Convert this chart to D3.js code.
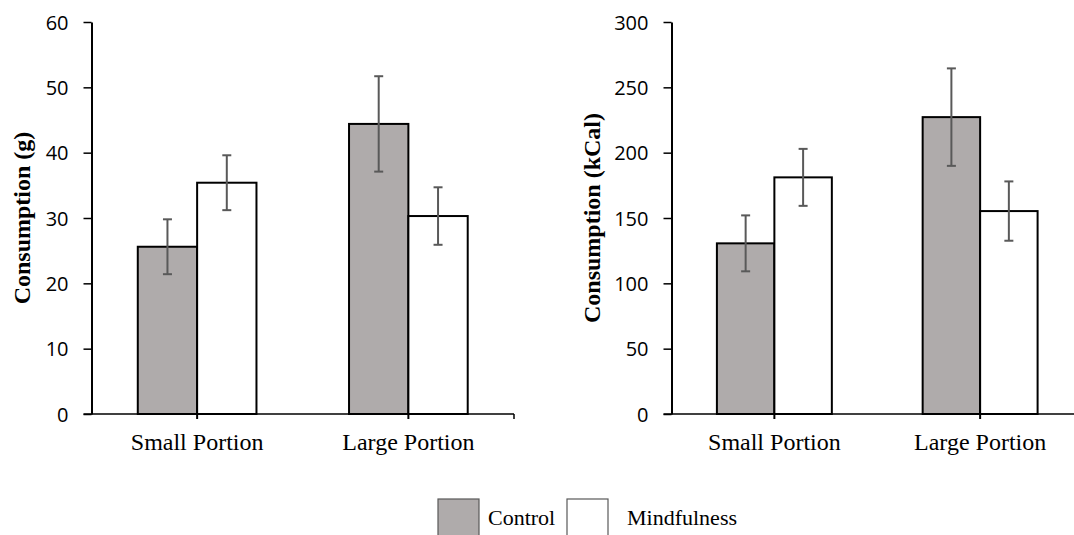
<!DOCTYPE html>
<meta charset="utf-8">
<style>
  body { margin: 0; background: #fff; }
  .tick-num { font-family: 'Open Sans', sans-serif; font-size: 20px; fill: #000; }
  .cat { font-family: 'Liberation Serif', 'Times New Roman', serif; font-size: 24px; fill: #000; }
  .ytitle { font-family: 'Liberation Serif', 'Times New Roman', serif; font-size: 24px; font-weight: bold; fill: #000; }
  .legend { font-family: 'Liberation Serif', 'Times New Roman', serif; font-size: 22px; fill: #000; }
</style>
<script src="https://d3js.org/d3.v7.min.js"></script>
<div id="chart"></div>
<script>

// categories and series
var categories = ["Small Portion", "Large Portion"];
var series = ["Control", "Mindfulness"];

// consumption in grams (mean and error)
var gramsControl = [25.6, 44.4];
var gramsMindful = [35.4, 30.3];
var gramsControlErr = [4.2, 7.3];
var gramsMindfulErr = [4.2, 4.4];
var gramsTicks = [0, 10, 20, 30, 40, 50, 60];

// consumption in kCal (mean and error)
var kcalControl = [130.6, 227.2];
var kcalMindful = [181.1, 155.3];
var kcalControlErr = [21.4, 37.3];
var kcalMindfulErr = [21.8, 22.7];
var kcalTicks = [0, 50, 100, 150, 200, 250, 300];

var colors = { "Control": "#afabab", "Mindfulness": "#ffffff" };

var W = 1074, H = 535;
var svg = d3.select("#chart").append("svg")
    .attr("width", W)
    .attr("height", H);

function buildRows(ctrl, mind, ctrlErr, mindErr) {
  return categories.map(function (c, i) {
    return {
      cat: c,
      vals: [
        { s: "Control", v: ctrl[i], e: ctrlErr[i] },
        { s: "Mindfulness", v: mind[i], e: mindErr[i] }
      ]
    };
  });
}

function drawPanel(opt) {
  var x0 = d3.scaleBand()
    .domain(categories)
    .range([opt.left, opt.right]);

  var x1 = d3.scaleBand()
    .domain(series)
    .range([0, x0.bandwidth()])
    .paddingOuter(opt.outer);

  var y = d3.scaleLinear()
    .domain([0, opt.max])
    .range([414, 22]);

  var g = svg.append("g");

  // bars
  var groups = g.selectAll(".grp")
    .data(opt.rows)
    .enter().append("g")
      .attr("transform", function (d) { return "translate(" + x0(d.cat) + ",0)"; });

  groups.selectAll("rect")
    .data(function (d) { return d.vals; })
    .enter().append("rect")
      .attr("x", function (d) { return x1(d.s); })
      .attr("y", function (d) { return y(d.v); })
      .attr("width", x1.bandwidth())
      .attr("height", function (d) { return y(0) - y(d.v); })
      .attr("fill", function (d) { return colors[d.s]; })
      .attr("stroke", "#000")
      .attr("stroke-width", 2);

  // error bars
  var eb = groups.selectAll(".err")
    .data(function (d) { return d.vals; })
    .enter().append("g")
      .attr("stroke", "#595959")
      .attr("stroke-width", 2);

  eb.append("line")
    .attr("x1", function (d) { return x1(d.s) + x1.bandwidth() / 2; })
    .attr("x2", function (d) { return x1(d.s) + x1.bandwidth() / 2; })
    .attr("y1", function (d) { return y(d.v + d.e); })
    .attr("y2", function (d) { return y(d.v - d.e); });

  [1, -1].forEach(function (sgn) {
    eb.append("line")
      .attr("x1", function (d) { return x1(d.s) + x1.bandwidth() / 2 - 4.5; })
      .attr("x2", function (d) { return x1(d.s) + x1.bandwidth() / 2 + 4.5; })
      .attr("y1", function (d) { return y(d.v + sgn * d.e); })
      .attr("y2", function (d) { return y(d.v + sgn * d.e); });
  });

  // y axis
  var yAxis = g.append("g")
    .attr("transform", "translate(" + opt.left + ",0)")
    .call(d3.axisLeft(y).tickValues(opt.ticks).tickSize(8).tickSizeOuter(0));
  yAxis.select(".domain").attr("stroke", "#000").attr("stroke-width", 2);
  yAxis.selectAll(".tick line").attr("stroke", "#000").attr("stroke-width", 1.5);
  yAxis.selectAll(".tick text")
    .attr("class", "tick-num")
    .attr("x", -23)
    .attr("dy", "0.36em")
    .attr("font-size", null)
    .attr("font-family", null);

  // x axis
  var xAxis = g.append("g")
    .attr("transform", "translate(0," + y(0) + ")")
    .call(d3.axisBottom(x0).tickSize(5).tickSizeOuter(0));
  xAxis.select(".domain")
    .attr("d", "M" + (opt.left - 8) + ",0H" + opt.right)
    .attr("stroke", "#000").attr("stroke-width", 1.5);
  xAxis.selectAll(".tick line").attr("stroke", "#000").attr("stroke-width", 2);
  xAxis.selectAll(".tick text")
    .attr("class", "cat")
    .attr("y", 36)
    .attr("dy", 0)
    .attr("font-size", null)
    .attr("font-family", null);
  xAxis.append("line")
    .attr("x1", x0.range()[1]).attr("x2", x0.range()[1])
    .attr("y1", 0).attr("y2", 5)
    .attr("stroke", "#000").attr("stroke-width", 1.5);

  // y title
  svg.append("text")
    .attr("class", "ytitle")
    .attr("transform", "translate(" + opt.titleX + ",218)rotate(-90)")
    .attr("text-anchor", "middle")
    .text(opt.title);
}

drawPanel({
  rows: buildRows(gramsControl, gramsMindful, gramsControlErr, gramsMindfulErr),
  left: 91.5, right: 514, max: 60, ticks: gramsTicks, outer: 0.78,
  titleX: 30, title: "Consumption (g)"
});

drawPanel({
  rows: buildRows(kcalControl, kcalMindful, kcalControlErr, kcalMindfulErr),
  left: 671.5, right: 1083, max: 300, ticks: kcalTicks, outer: 0.79,
  titleX: 600, title: "Consumption (kCal)"
});

// legend
var legendX = [438, 567];
var legendTextX = [488, 627];
series.forEach(function (s, i) {
  svg.append("rect")
    .attr("x", legendX[i]).attr("y", 499)
    .attr("width", 41).attr("height", 42)
    .attr("fill", colors[s])
    .attr("stroke", "#595959")
    .attr("stroke-width", 1.2);
  svg.append("text")
    .attr("class", "legend")
    .attr("x", legendTextX[i])
    .attr("y", 525)
    .text(s);
});

</script>
